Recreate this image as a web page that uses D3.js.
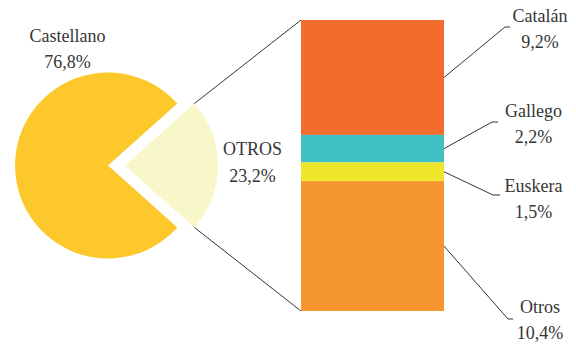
<!DOCTYPE html>
<html>
<head>
<meta charset="utf-8">
<script src="https://cdn.jsdelivr.net/npm/d3@7"></script>
</head>
<body style="margin:0">
<script>
// Lenguas habladas: pie with the "OTROS" slice broken out into a stacked bar
const pieLabels = ["Castellano", "OTROS"];
const pieValues = [76.8, 23.2];
const pieColors = ["#FDC82C", "#F8F7C9"];

const barLabels = ["Catalán", "Gallego", "Euskera", "Otros"];
const barValues = [9.2, 2.2, 1.5, 10.4];
const barColors = ["#F26C2D", "#42C1C5", "#EDE62B", "#F6962F"];

const fmt = v => d3.format(".1f")(v).replace(".", ",") + "%";

const W = 576, H = 344;
const svg = d3.select("body").append("svg").attr("width", W).attr("height", H);

// ---- pie ----
const cx = 108, cy = 165.5, R = 93, explode = 17;
const half = Math.PI * pieValues[1] / d3.sum(pieValues);
const pie = d3.pie().sort(null).value(d => d)
  .startAngle(Math.PI / 2 + half).endAngle(Math.PI / 2 + half + 2 * Math.PI);
const arcs = pie(pieValues);
const arc = d3.arc().innerRadius(0).outerRadius(R);

arcs.forEach((a, i) => {
  const dx = i === 1 ? explode : 0;
  svg.append("path")
    .attr("transform", `translate(${cx + dx},${cy})`)
    .attr("d", arc(a))
    .attr("fill", pieColors[i]);
});

// ---- stacked bar ----
const barX0 = 301, barX1 = 444;
const total = d3.sum(barValues);
const y = d3.scaleLinear().domain([0, total]).range([20, 311]);
const stacks = [];
let acc = 0;
barValues.forEach((v, i) => { stacks.push({ i, y0: acc, y1: acc + v }); acc += v; });

svg.selectAll("rect.seg").data(stacks).join("rect")
  .attr("class", "seg")
  .attr("x", barX0).attr("width", barX1 - barX0)
  .attr("y", d => y(d.y0)).attr("height", d => y(d.y1) - y(d.y0))
  .attr("fill", d => barColors[d.i]);

// ---- connectors from the broken-out slice to the bar ----
const otros = arcs[1];
const ocx = cx + explode;
const pt = ang => [ocx + R * Math.sin(ang), cy - R * Math.cos(ang)];
const cornerTop = pt(otros.startAngle), cornerBot = pt(otros.endAngle);
const lineStyle = s => s.attr("stroke", "#333").attr("stroke-width", 1).attr("fill", "none");
svg.append("line").attr("x1", cornerTop[0]).attr("y1", cornerTop[1]).attr("x2", barX0).attr("y2", y(0)).call(lineStyle);
svg.append("line").attr("x1", cornerBot[0]).attr("y1", cornerBot[1]).attr("x2", barX0).attr("y2", y(total)).call(lineStyle);

// ---- labels (centred by measuring their width) ----
function label(x, yy, s) {
  const t = svg.append("text").attr("x", x).attr("y", yy)
    .style("font-family", '"Times New Roman"')
    .style("font-size", "18px").style("fill", "#363636")
    .text(s);
  const w = t.node().getComputedTextLength();
  t.attr("x", x - w / 2);
}
function twoLine(x, y1, y2, a, b) { label(x, y1, a); label(x, y2, b); }
twoLine(67.5, 42, 68, pieLabels[0], fmt(pieValues[0]));
twoLine(252.5, 155, 182, pieLabels[1], fmt(pieValues[1]));

// ---- bar segment labels with elbow leaders ----
const leaders = [
  { elbow: [505, 27], end: 510, tx: 540, ty: 22 },
  { elbow: [492, 122], end: 498, tx: 533.5, ty: 117 },
  { elbow: [493, 195], end: 500, tx: 533.5, ty: 192 },
  { elbow: [508, 319], end: 513, tx: 540, ty: 313 }
];
stacks.forEach((s, k) => {
  const L = leaders[k];
  const ym = y((s.y0 + s.y1) / 2);
  svg.append("path")
    .attr("d", `M${barX1},${ym}L${L.elbow[0]},${L.elbow[1]}L${L.end},${L.elbow[1]}`)
    .call(lineStyle);
  twoLine(L.tx, L.ty, L.ty + 26, barLabels[k], fmt(barValues[k]));
});
</script>
</body>
</html>
